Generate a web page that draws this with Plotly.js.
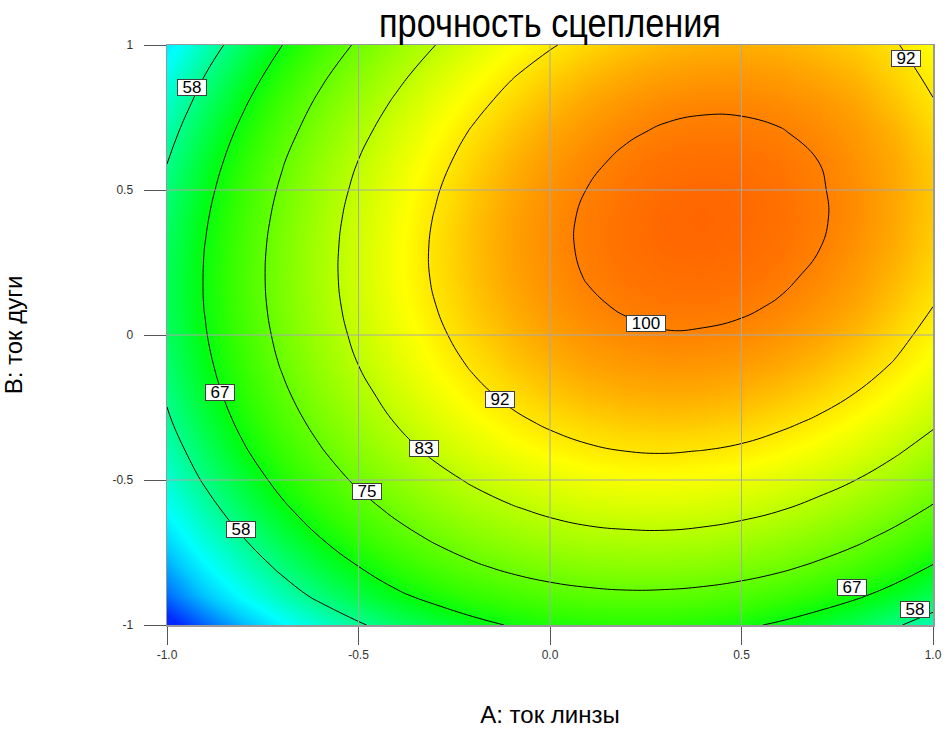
<!DOCTYPE html>
<html>
<head>
<meta charset="utf-8">
<script src="https://cdn.plot.ly/plotly-3.0.1.min.js"></script>
<style>
  html, body { margin: 0; padding: 0; background: #ffffff; }
  #chart { width: 946px; height: 731px; }
</style>
</head>
<body>
<div id="chart"></div>
<script>
// ---- data ----
const aValues = [-1, -0.9, -0.8, -0.7, -0.6, -0.5, -0.4, -0.3, -0.2, -0.1, 0, 0.1, 0.2, 0.3, 0.4, 0.5, 0.6, 0.7, 0.8, 0.9, 1];   // A: ток линзы
const bValues = [-1, -0.9, -0.8, -0.7, -0.6, -0.5, -0.4, -0.3, -0.2, -0.1, 0, 0.1, 0.2, 0.3, 0.4, 0.5, 0.6, 0.7, 0.8, 0.9, 1];   // B: ток дуги
// response (прочность сцепления); rows follow bValues, columns follow aValues
const strength = [
  [36.1, 41.3, 46.1, 50.4, 54.3, 57.7, 60.7, 63.2, 65.3, 67.0, 68.2, 68.9, 69.2, 69.1, 68.5, 67.5, 66.0, 64.1, 61.8, 59.0, 55.7],
  [41.7, 46.8, 51.5, 55.7, 59.5, 62.9, 65.8, 68.1, 70.1, 71.7, 72.9, 73.7, 74.1, 74.0, 73.5, 72.6, 71.2, 69.4, 67.3, 64.7, 61.7],
  [45.2, 50.4, 55.1, 59.4, 63.2, 66.6, 69.6, 72.2, 74.3, 76.0, 77.3, 78.1, 78.5, 78.5, 78.1, 77.2, 75.9, 74.1, 72.0, 69.4, 66.3],
  [48.4, 53.6, 58.3, 62.7, 66.6, 70.1, 73.1, 75.7, 77.9, 79.7, 81.0, 81.9, 82.3, 82.4, 82.0, 81.1, 79.9, 78.2, 76.1, 73.5, 70.6],
  [51.2, 56.4, 61.3, 65.7, 69.6, 73.1, 76.2, 78.9, 81.1, 82.9, 84.3, 85.3, 85.8, 85.9, 85.5, 84.8, 83.6, 81.9, 79.9, 77.4, 74.4],
  [53.7, 59.0, 63.8, 68.3, 72.3, 75.9, 79.0, 81.7, 84.0, 85.9, 87.3, 88.3, 88.9, 89.0, 88.8, 88.0, 86.9, 85.3, 83.3, 80.9, 78.0],
  [55.8, 61.1, 66.1, 70.6, 74.6, 78.3, 81.5, 84.3, 86.6, 88.5, 90.0, 91.1, 91.7, 91.9, 91.6, 91.0, 89.9, 88.4, 86.4, 84.0, 81.2],
  [57.6, 63.0, 68.0, 72.5, 76.6, 80.3, 83.6, 86.4, 88.8, 90.8, 92.3, 93.4, 94.1, 94.4, 94.2, 93.6, 92.5, 91.1, 89.2, 86.8, 84.1],
  [59.0, 64.5, 69.5, 74.1, 78.3, 82.0, 85.3, 88.2, 90.7, 92.7, 94.3, 95.5, 96.2, 96.5, 96.4, 95.8, 94.8, 93.4, 91.6, 89.3, 86.6],
  [60.1, 65.6, 70.7, 75.4, 79.6, 83.4, 86.8, 89.7, 92.2, 94.3, 95.9, 97.2, 97.9, 98.3, 98.2, 97.7, 96.8, 95.4, 93.6, 91.4, 88.8],
  [60.9, 66.4, 71.6, 76.3, 80.6, 84.4, 87.8, 90.8, 93.4, 95.5, 97.2, 98.5, 99.3, 99.8, 99.7, 99.3, 98.4, 97.1, 95.4, 93.0, 90.2],
  [61.3, 66.9, 72.1, 76.9, 81.2, 85.1, 88.6, 91.6, 94.2, 96.4, 98.2, 99.5, 100.4, 100.9, 100.9, 100.5, 99.7, 98.4, 96.8, 94.4, 91.7],
  [61.3, 67.0, 72.3, 77.1, 81.5, 85.4, 89.0, 92.1, 94.7, 97.0, 98.8, 100.2, 101.1, 101.6, 101.7, 101.4, 100.6, 99.4, 97.8, 95.5, 92.9],
  [61.0, 66.8, 72.1, 77.0, 81.4, 85.4, 89.0, 92.2, 94.9, 97.2, 99.1, 100.5, 101.5, 102.1, 102.2, 101.9, 101.2, 100.1, 98.5, 96.3, 93.7],
  [60.4, 66.2, 71.6, 76.5, 81.0, 85.1, 88.7, 91.9, 94.7, 97.1, 99.0, 100.5, 101.5, 102.2, 102.4, 102.1, 101.5, 100.4, 98.9, 96.7, 94.1],
  [59.5, 65.3, 70.7, 75.7, 80.3, 84.4, 88.1, 91.3, 94.2, 96.6, 98.6, 100.1, 101.2, 101.9, 102.2, 102.0, 101.4, 100.3, 98.9, 96.8, 94.2],
  [58.2, 64.1, 69.5, 74.6, 79.2, 83.4, 87.1, 90.4, 93.3, 95.8, 97.8, 99.4, 100.6, 101.3, 101.6, 101.5, 100.9, 100.0, 98.5, 96.5, 94.0],
  [56.5, 62.5, 68.0, 73.1, 77.7, 82.0, 85.8, 89.2, 92.1, 94.6, 96.7, 98.3, 99.6, 100.4, 100.7, 100.6, 100.2, 99.2, 97.9, 95.9, 93.0],
  [54.5, 60.5, 66.1, 71.3, 76.0, 80.3, 84.1, 87.5, 90.5, 93.1, 95.2, 96.9, 98.2, 99.1, 99.5, 99.5, 99.0, 98.2, 96.9, 94.6, 91.9],
  [52.2, 58.3, 63.9, 69.1, 73.9, 78.2, 82.1, 85.6, 88.6, 91.3, 93.4, 95.2, 96.5, 97.4, 97.9, 98.0, 97.6, 96.7, 95.5, 93.3, 90.7],
  [49.5, 55.6, 61.3, 66.6, 71.4, 75.8, 79.8, 83.3, 86.4, 89.1, 91.3, 93.1, 94.5, 95.5, 96.0, 96.1, 95.8, 95.0, 93.8, 92.0, 89.4]
];
const levelStart = 58.3333;
const levelEnd = 100;
const levelStep = 8.33333;
const levelLabels = ["58", "67", "75", "83", "92", "100"];

const xTickVals = [-1, -0.5, 0, 0.5, 1];
const xTickText = ["-1.0", "-0.5", "0.0", "0.5", "1.0"];
const yTickVals = [-1, -0.5, 0, 0.5, 1];
const yTickText = ["-1", "-0.5", "0", "0.5", "1"];

const titleText = "прочность сцепления";
const xTitle = "A: ток линзы";
const yTitle = "B: ток дуги";

// ---- label placement (layout, not data) ----
const labelPlaces = [
  {i: 0, x: -0.935, y: 0.855},
  {i: 4, x: 0.93, y: 0.955},
  {i: 5, x: 0.251, y: 0.041},
  {i: 1, x: -0.862, y: -0.197},
  {i: 4, x: -0.131, y: -0.221},
  {i: 3, x: -0.329, y: -0.393},
  {i: 2, x: -0.478, y: -0.538},
  {i: 0, x: -0.807, y: -0.669},
  {i: 1, x: 0.789, y: -0.872},
  {i: 0, x: 0.953, y: -0.945}
];

const colorScale = [
  [0.000, "#0028FF"],
  [0.064, "#0070FF"],
  [0.141, "#00C8FF"],
  [0.203, "#00FFFF"],
  [0.281, "#00FFB0"],
  [0.358, "#00FF60"],
  [0.436, "#00FF10"],
  [0.498, "#30FF00"],
  [0.591, "#70FF00"],
  [0.700, "#B8FF00"],
  [0.777, "#EEFF00"],
  [0.800, "#FFFF00"],
  [0.855, "#FFD800"],
  [0.909, "#FFAA00"],
  [0.964, "#FF8000"],
  [1.000, "#FF6600"]
];
const colorMin = 37.9;
const colorMax = 102.35;

const sans = "Liberation Sans, Arial, sans-serif";

const axRange = [xTickVals[0], xTickVals[xTickVals.length - 1]];
const ayRange = [yTickVals[0], yTickVals[yTickVals.length - 1]];

// grid lines drawn above the colour map, built from the tick arrays
const gx = [], gy = [];
xTickVals.slice(1, -1).forEach(v => { gx.push(v, v, null); gy.push(ayRange[0], ayRange[1], null); });
yTickVals.slice(1, -1).forEach(v => { gx.push(axRange[0], axRange[1], null); gy.push(v, v, null); });

const traces = [
  {
    type: "heatmap",
    x: aValues, y: bValues, z: strength,
    colorscale: colorScale,
    zmin: colorMin, zmax: colorMax,
    zsmooth: "best",
    showscale: false,
    hoverinfo: "skip"
  },
  {
    type: "scatter", mode: "lines",
    x: gx, y: gy,
    line: {color: "#A8A8A8", width: 1},
    hoverinfo: "skip", showlegend: false
  },
  {
    type: "contour",
    x: aValues, y: bValues, z: strength,
    autocontour: false,
    contours: {start: levelStart, end: levelEnd, size: levelStep, coloring: "none", showlabels: false},
    line: {color: "#000000", width: 1, smoothing: 1.3},
    showscale: false,
    hoverinfo: "skip"
  }
];

const annotations = labelPlaces.map(p => {
  const t = levelLabels[p.i];
  return {
    x: p.x, y: p.y, xref: "x", yref: "y",
    text: t,
    showarrow: false,
    bgcolor: "#FFFFFF",
    bordercolor: "#404040",
    borderwidth: 1,
    borderpad: 0,
    width: 10 * t.length + 8,
    height: 15,
    font: {family: sans, size: 17, color: "#000000"}
  };
});

const layout = {
  width: 946, height: 731,
  margin: {l: 167, r: 13, t: 45, b: 106},
  paper_bgcolor: "#FFFFFF",
  plot_bgcolor: "#FFFFFF",
  showlegend: false,
  title: {
    text: titleText,
    font: {family: sans, size: 40, color: "#000000"},
    x: 0.5, xref: "paper", xanchor: "center",
    y: 0.968, yref: "container", yanchor: "middle"
  },
  xaxis: {
    range: axRange,
    tickvals: xTickVals, ticktext: xTickText,
    ticks: "outside", ticklen: 18, tickwidth: 1, tickcolor: "#555555",
    tickfont: {family: sans, size: 12, color: "#333333"},
    showgrid: false, zeroline: false,
    showline: true, linecolor: "#999999", linewidth: 1.5, mirror: true,
    title: {text: xTitle, font: {family: sans, size: 24, color: "#000000"}, standoff: 45},
    fixedrange: true
  },
  yaxis: {
    range: ayRange,
    tickvals: yTickVals, ticktext: yTickText,
    ticks: "outside", ticklen: 22, tickwidth: 1, tickcolor: "#555555",
    tickfont: {family: sans, size: 12, color: "#333333"},
    ticklabelstandoff: 8,
    showgrid: false, zeroline: false,
    showline: true, linecolor: "#999999", linewidth: 1.5, mirror: true,
    title: {text: yTitle, font: {family: sans, size: 24, color: "#000000"}, standoff: 85},
    fixedrange: true
  },
  annotations: annotations
};

// the reference title is set in a condensed face: squeeze the real text horizontally
const titleWidth = 342;
Plotly.newPlot("chart", traces, layout, {displayModeBar: false, staticPlot: true}).then(gd => {
  const t = gd.querySelector(".gtitle");
  if (!t) return;
  const bb = t.getBBox();
  const cx = bb.x + bb.width / 2;
  const prev = t.getAttribute("transform") || "";
  t.setAttribute("transform", prev + ` translate(${cx} 0) scale(${titleWidth / bb.width} 1) translate(${-cx} 0)`);
});
</script>
</body>
</html>
